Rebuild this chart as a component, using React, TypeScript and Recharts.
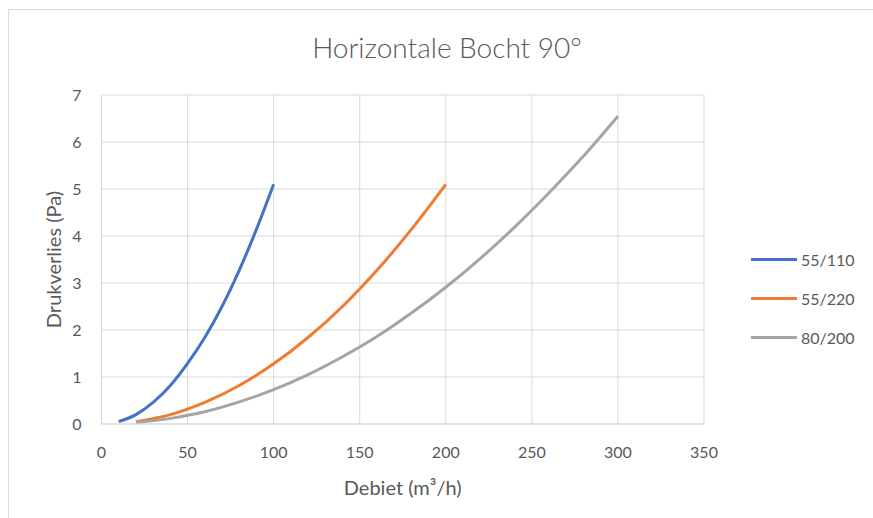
import { CartesianGrid, Legend, Line, LineChart, XAxis, YAxis } from 'recharts'

const xTicks = [0, 50, 100, 150, 200, 250, 300, 350]
const yTicks = [0, 1, 2, 3, 4, 5, 6, 7]

const flow110 = [10, 20, 30, 40, 50, 60, 70, 80, 90, 100]
const loss110 = [0.05, 0.2, 0.46, 0.82, 1.29, 1.84, 2.5, 3.27, 4.14, 5.1]

const flow220 = [20, 40, 60, 80, 100, 120, 140, 160, 180, 200]
const loss220 = [0.05, 0.2, 0.46, 0.82, 1.28, 1.84, 2.5, 3.27, 4.14, 5.1]

const flow200 = [20, 40, 60, 80, 100, 120, 140, 160, 180, 200, 220, 240, 260, 280, 300]
const loss200 = [0.03, 0.12, 0.26, 0.47, 0.73, 1.05, 1.43, 1.86, 2.36, 2.91, 3.52, 4.19, 4.92, 5.7, 6.55]

const series = [
  { name: '55/110', color: '#4472C4', data: flow110.map((x, i) => ({ x, y: loss110[i] })) },
  { name: '55/220', color: '#ED7D31', data: flow220.map((x, i) => ({ x, y: loss220[i] })) },
  { name: '80/200', color: '#A5A5A5', data: flow200.map((x, i) => ({ x, y: loss200[i] })) },
]

const font = 'Lato, "Open Sans", sans-serif'
const textColor = '#595959'

function LegendBox() {
  return (
    <div style={{ fontFamily: font, fontSize: 16, color: textColor }}>
      {series.map((s) => (
        <div key={s.name} style={{ display: 'flex', alignItems: 'center', height: 39 }}>
          <span style={{ display: 'inline-block', width: 46, height: 3, background: s.color, marginRight: 4 }} />
          <span>{s.name}</span>
        </div>
      ))}
    </div>
  )
}

function XTitle({ viewBox }: any) {
  const { x, y, width } = viewBox
  return (
    <text x={x + width / 2} y={y + 71} textAnchor="middle" fill={textColor} fontSize={20} fontFamily={font}>
      Debiet (m³/h)
    </text>
  )
}

function YTitle() {
  // plot area runs from y=85 to y=414 inside the svg
  const cx = 44
  const cy = 85 + 329 / 2
  return (
    <text
      x={cx} y={cy} textAnchor="middle" dominantBaseline="central"
      transform={`rotate(-90 ${cx} ${cy})`} fill={textColor} fontSize={20} fontFamily={font}
    >
      Drukverlies (Pa)
    </text>
  )
}

export default function App() {
  return (
    <div
      style={{
        position: 'absolute', left: 8, top: 9, width: 900, height: 540,
        borderTop: '1px solid #d9d9d9', borderLeft: '1px solid #d9d9d9', background: '#fff',
      }}
    >
      <div
        style={{
          position: 'absolute', left: 0, width: 876, top: 20, textAlign: 'center',
          fontFamily: font, fontSize: 28, color: textColor, fontWeight: 300,
        }}
      >
        Horizontale Bocht 90°
      </div>
      <LineChart width={880} height={509} margin={{ top: 85, right: 185, bottom: 23, left: 0 }}>
        <CartesianGrid stroke="#d9d9d9" strokeWidth={1} />
        <XAxis
          type="number" dataKey="x" domain={[0, 350]} ticks={xTicks} interval={0}
          stroke="#d9d9d9" tickLine={false} tickSize={10} tickMargin={13} height={72}
          tick={{ fill: textColor, fontSize: 16, fontFamily: font }}
          label={<XTitle />}
        />
        <YAxis
          type="number" dataKey="y" domain={[0, 7]} ticks={yTicks} interval={0} width={92.5}
          axisLine={false} tickLine={false} tickSize={10} tickMargin={10}
          tick={{ fill: textColor, fontSize: 16, fontFamily: font }}
          label={<YTitle />}
        />
        <Legend
          layout="horizontal" align="center" verticalAlign="middle"
          content={() => <LegendBox />}
          wrapperStyle={{ position: 'absolute', left: 742, top: 230, width: 130, height: 117 }}
        />
        {series.map((s) => (
          <Line
            key={s.name} data={s.data} dataKey="y" name={s.name} type="monotone"
            stroke={s.color} strokeWidth={3} dot={false} isAnimationActive={false}
          />
        ))}
      </LineChart>
    </div>
  )
}
